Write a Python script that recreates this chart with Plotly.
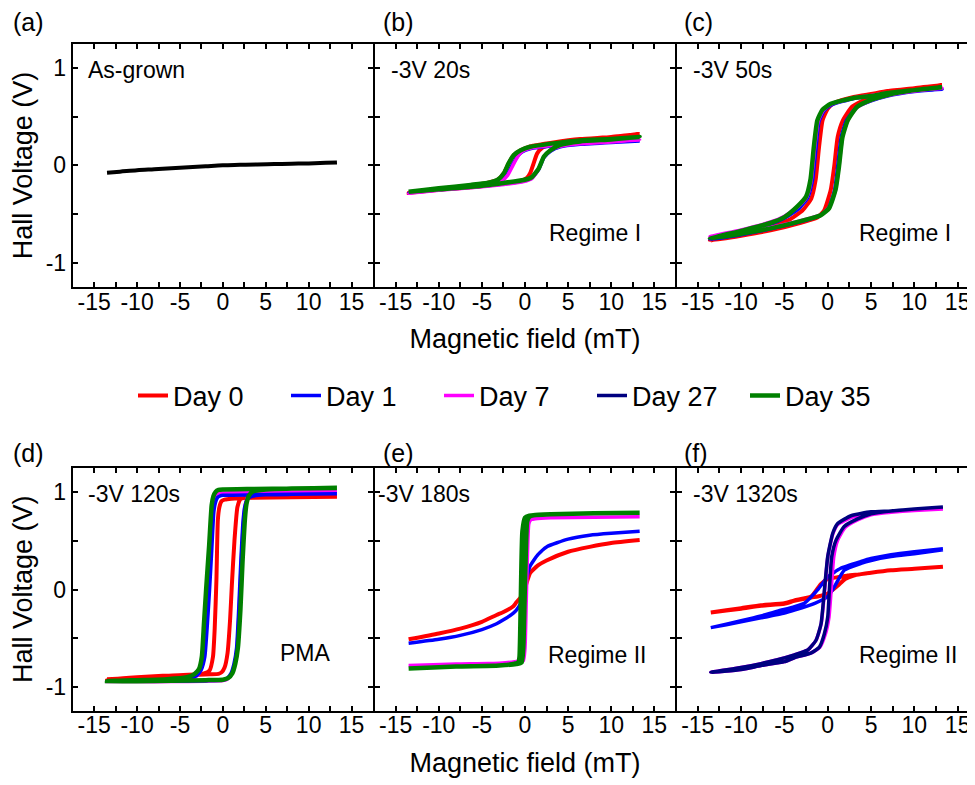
import plotly.graph_objects as go

# ---------------- data ----------------
# (a) As-grown
a_H = [-13.5, -12, -10, -8, -6, -4, -2, 0, 2, 4, 6, 8, 10, 12, 13.3]
a_V = [-0.075, -0.065, -0.05, -0.04, -0.03, -0.02, -0.01, 0.0, 0.005, 0.01, 0.013, 0.017, 0.02, 0.026, 0.03]

# (b) -3V 20s : each loop = descending branch followed by ascending branch
b_day0_H = [13.3, 10, 6.4, 3.3, 0.6, -0.5, -1.3, -1.9, -2.45, -3.2, -4.4, -6.3, -10, -13.5,
            -10, -6.3, -2.45, -0.5, 0.2, 0.6, 1.0, 1.4, 2.0, 3.0, 4.5, 6.4, 10, 13.3]
b_day0_V = [0.32, 0.29, 0.27, 0.235, 0.195, 0.155, 0.105, 0.02, -0.08, -0.15, -0.18, -0.205, -0.24, -0.28,
            -0.25, -0.225, -0.185, -0.16, -0.13, -0.08, 0.02, 0.12, 0.18, 0.21, 0.23, 0.255, 0.29, 0.32]
b_day1_H = [13.3, 10, 6.4, 3.3, 0.6, -0.3, -0.9, -1.5, -2.1, -2.8, -4.0, -6.3, -10, -13.5,
            -10, -6.3, -2.45, -0.15, 0.8, 1.6, 2.2, 2.95, 4.1, 6.4, 10, 13.3]
b_day1_V = [0.25, 0.235, 0.22, 0.2, 0.17, 0.14, 0.09, 0.0, -0.1, -0.16, -0.185, -0.21, -0.245, -0.28,
            -0.25, -0.225, -0.19, -0.16, -0.13, -0.04, 0.08, 0.145, 0.19, 0.215, 0.235, 0.25]
b_day7_H = [13.3, 10, 6.4, 3.3, 0.6, -0.3, -0.8, -1.4, -2.0, -2.7, -4.0, -6.3, -10, -13.5,
            -10, -6.3, -2.45, -0.15, 0.8, 1.55, 2.15, 2.9, 4.1, 6.4, 10, 13.3]
b_day7_V = [0.26, 0.245, 0.225, 0.205, 0.175, 0.145, 0.095, 0.0, -0.1, -0.16, -0.19, -0.215, -0.25, -0.285,
            -0.255, -0.23, -0.195, -0.165, -0.135, -0.04, 0.08, 0.15, 0.195, 0.22, 0.24, 0.26]
b_day35_H = [13.3, 10, 6.4, 3.3, 0.6, -0.5, -1.3, -1.9, -2.45, -3.2, -4.4, -6.3, -10, -13.5,
             -10, -6.3, -2.45, -0.15, 0.8, 1.6, 2.2, 2.95, 4.1, 6.4, 10, 13.3]
b_day35_V = [0.29, 0.27, 0.255, 0.225, 0.19, 0.155, 0.105, 0.02, -0.08, -0.15, -0.18, -0.20, -0.235, -0.27,
             -0.245, -0.22, -0.18, -0.15, -0.12, -0.03, 0.09, 0.155, 0.21, 0.245, 0.265, 0.29]

# (c) -3V 50s
c_day0_H = [13.2, 10, 6.9, 5.0, 3.0, 0.8, 0.0, -0.6, -1.0, -1.4, -1.9, -2.9, -4.5, -6.6, -10, -13.6,
            -10, -6.6, -3.0, -1.2, -0.4, 0.35, 0.75, 1.15, 1.75, 2.8, 4.5, 6.9, 10, 13.2]
c_day0_V = [0.82, 0.79, 0.76, 0.73, 0.70, 0.64, 0.58, 0.46, 0.19, -0.15, -0.34, -0.46, -0.56, -0.62, -0.69, -0.77,
            -0.72, -0.665, -0.585, -0.535, -0.46, -0.25, -0.01, 0.29, 0.46, 0.60, 0.68, 0.74, 0.79, 0.82]
c_day1_H = [13.2, 10, 6.9, 5.0, 3.0, 0.5, -0.4, -1.0, -1.35, -1.75, -2.3, -3.3, -5.0, -6.6, -10, -13.6,
            -10, -6.6, -2.7, -0.9, 0.05, 0.8, 1.15, 1.55, 2.15, 3.3, 5.0, 6.9, 10, 13.2]
c_day1_V = [0.78, 0.76, 0.735, 0.71, 0.685, 0.62, 0.56, 0.45, 0.18, -0.15, -0.33, -0.44, -0.54, -0.60, -0.68, -0.76,
            -0.71, -0.65, -0.565, -0.515, -0.445, -0.25, -0.01, 0.29, 0.46, 0.59, 0.66, 0.71, 0.755, 0.78]
c_day7_H = [13.2, 10, 6.9, 5.0, 3.0, 0.4, -0.5, -1.1, -1.5, -1.9, -2.4, -3.4, -5.0, -6.6, -10, -13.6,
            -10, -6.6, -2.7, -0.8, 0.15, 0.9, 1.3, 1.7, 2.3, 3.4, 5.0, 6.9, 10, 13.2]
c_day7_V = [0.79, 0.765, 0.74, 0.715, 0.69, 0.625, 0.565, 0.455, 0.185, -0.15, -0.32, -0.42, -0.52, -0.58, -0.66, -0.73,
            -0.69, -0.635, -0.555, -0.505, -0.435, -0.25, -0.01, 0.29, 0.46, 0.595, 0.665, 0.715, 0.76, 0.79]
c_day35_H = [13.2, 10, 6.9, 5.0, 3.0, 0.35, -0.6, -1.2, -1.6, -2.0, -2.5, -3.5, -5.0, -6.6, -10, -13.6,
             -10, -6.6, -2.7, -0.8, 0.15, 0.9, 1.3, 1.7, 2.3, 3.4, 5.0, 6.9, 10, 13.2]
c_day35_V = [0.80, 0.77, 0.74, 0.71, 0.69, 0.63, 0.57, 0.46, 0.19, -0.15, -0.32, -0.42, -0.53, -0.59, -0.67, -0.75,
             -0.70, -0.645, -0.56, -0.51, -0.44, -0.25, -0.01, 0.29, 0.46, 0.60, 0.67, 0.72, 0.77, 0.80]

# (d) -3V 120s
d_day0_H = [13.3, 8, 3.5, 1.0, 0.2, -0.15, -0.4, -0.58, -0.75, -0.95, -1.15, -1.55, -2.2, -4, -7, -10, -13.5,
            -10, -7, -4, -1.5, -0.5, -0.15, 0.2, 0.55, 0.85, 1.05, 1.35, 1.7, 2.05, 2.6, 4, 8, 13.3]
d_day0_V = [0.955, 0.95, 0.945, 0.935, 0.925, 0.91, 0.85, 0.72, 0.1, -0.4, -0.69, -0.83, -0.86, -0.875, -0.885, -0.9, -0.92,
            -0.905, -0.895, -0.88, -0.87, -0.865, -0.85, -0.8, -0.65, -0.3, 0.05, 0.5, 0.85, 0.93, 0.945, 0.95, 0.953, 0.955]
d_day1_H = [13.3, 8, 3.5, 0.0, -0.3, -0.6, -0.85, -1.05, -1.3, -1.55, -1.8, -2.1, -2.5, -3.0, -4.0, -6.5, -10, -13.5,
            -10, -6, -2, 0.0, 0.45, 0.95, 1.3, 1.6, 1.85, 2.1, 2.35, 2.55, 2.85, 3.4, 5, 8, 13.3]
d_day1_V = [0.985, 0.98, 0.975, 0.97, 0.965, 0.95, 0.9, 0.8, 0.4, 0.0, -0.35, -0.69, -0.82, -0.88, -0.91, -0.93, -0.935, -0.94,
            -0.94, -0.94, -0.935, -0.93, -0.915, -0.86, -0.76, -0.6, -0.2, 0.3, 0.7, 0.85, 0.93, 0.96, 0.975, 0.98, 0.985]
d_day7_H = [13.3, 8, 3.5, 0.0, -0.4, -0.7, -0.95, -1.15, -1.4, -1.65, -1.9, -2.2, -2.6, -3.1, -4.0, -6.5, -10, -13.5,
            -10, -6, -2, 0.0, 0.5, 1.0, 1.35, 1.65, 1.9, 2.15, 2.4, 2.6, 2.9, 3.45, 5, 8, 13.3]
d_day7_V = [1.01, 1.005, 1.0, 0.995, 0.99, 0.975, 0.93, 0.82, 0.4, 0.0, -0.35, -0.69, -0.83, -0.89, -0.92, -0.935, -0.94, -0.945,
            -0.945, -0.945, -0.94, -0.935, -0.92, -0.87, -0.77, -0.6, -0.2, 0.3, 0.7, 0.87, 0.95, 0.985, 1.0, 1.005, 1.01]
d_day35_H = [13.3, 8, 3.5, 0.0, -0.5, -0.85, -1.1, -1.3, -1.6, -1.95, -2.2, -2.45, -2.8, -3.35, -4.2, -6.5, -10, -13.5,
             -10, -6, -2, 0.0, 0.6, 1.1, 1.45, 1.75, 2.05, 2.3, 2.55, 2.75, 3.05, 3.5, 5, 8, 13.3]
d_day35_V = [1.045, 1.04, 1.035, 1.03, 1.025, 1.005, 0.96, 0.87, 0.45, 0.0, -0.35, -0.69, -0.82, -0.87, -0.9, -0.92, -0.93, -0.94,
             -0.94, -0.935, -0.93, -0.925, -0.91, -0.86, -0.76, -0.6, -0.2, 0.3, 0.7, 0.88, 0.97, 1.01, 1.03, 1.04, 1.045]

# (e) -3V 180s
e_day0_H = [-13.5, -10, -7.5, -5, -3.3, -2.5, -1.35, -1, -0.5, -0.2, 0.0, 0.3, 0.58, 1, 1.5, 2.5, 5, 7.5, 10, 13.3]
e_day0_V = [-0.51, -0.45, -0.40, -0.33, -0.26, -0.23, -0.17, -0.13, -0.08, -0.03, 0.02, 0.10, 0.17, 0.21, 0.25, 0.30, 0.39, 0.44, 0.48, 0.51]
e_day1_H = [-13.5, -10, -7.5, -5, -3.3, -2.5, -1.35, -1, -0.5, -0.2, 0.0, 0.25, 0.58, 1, 1.5, 2.5, 5, 7.5, 10, 13.3]
e_day1_V = [-0.55, -0.51, -0.47, -0.41, -0.35, -0.31, -0.24, -0.21, -0.14, -0.05, 0.03, 0.14, 0.24, 0.30, 0.36, 0.44, 0.52, 0.56, 0.58, 0.60]
e_day7_H = [13.3, 8, 3, 0.5, 0.0, -0.25, -0.4, -0.5, -0.6, -0.8, -1.2, -3, -8, -13.5,
            -8, -3, -1, -0.2, 0.0, 0.15, 0.3, 0.45, 0.7, 1.2, 3, 8, 13.3]
e_day7_V = [0.75, 0.745, 0.74, 0.73, 0.72, 0.6, 0.1, -0.4, -0.68, -0.73, -0.74, -0.755, -0.765, -0.78,
            -0.765, -0.755, -0.745, -0.73, -0.6, -0.1, 0.4, 0.68, 0.72, 0.73, 0.74, 0.745, 0.75]
e_day35_H = [13.3, 8, 3, 0.5, 0.0, -0.3, -0.45, -0.55, -0.65, -0.8, -1.2, -3, -8, -13.5,
             -8, -3, -1, -0.4, -0.2, -0.05, 0.1, 0.25, 0.5, 1, 3, 8, 13.3]
e_day35_V = [0.79, 0.785, 0.775, 0.76, 0.74, 0.6, 0.1, -0.4, -0.7, -0.75, -0.76, -0.78, -0.79, -0.81,
             -0.79, -0.78, -0.765, -0.75, -0.6, -0.1, 0.4, 0.7, 0.75, 0.765, 0.775, 0.785, 0.79]

# (f) -3V 1320s
f_day0_H = [13.3, 10, 7.3, 5, 3.85, 2.3, 1.3, 0.0, -0.77, -1.9, -3.85, -5, -7.7, -10, -13.5,
            -10, -7.7, -5, -3.85, -1.9, -1.15, 0.0, 1.15, 2.0, 3.0, 3.85, 5, 7.3, 10, 13.3]
f_day0_V = [0.235, 0.215, 0.20, 0.175, 0.16, 0.145, 0.13, 0.11, 0.06, -0.07, -0.11, -0.14, -0.16, -0.19, -0.235,
            -0.195, -0.165, -0.145, -0.115, -0.08, -0.07, -0.04, 0.04, 0.11, 0.145, 0.16, 0.175, 0.20, 0.215, 0.235]
f_day1_H = [13.3, 10, 7.3, 5, 3.85, 1.5, 0.0, -1.15, -2.7, -4.0, -5.8, -7.7, -10, -13.5,
            -10, -7.7, -5, -3.85, -1.5, 0.0, 0.77, 1.9, 3.85, 5, 7.3, 10, 13.3]
f_day1_V = [0.42, 0.39, 0.36, 0.32, 0.29, 0.22, 0.13, 0.0, -0.14, -0.18, -0.22, -0.27, -0.32, -0.39,
            -0.33, -0.29, -0.24, -0.21, -0.14, -0.07, 0.03, 0.20, 0.27, 0.30, 0.34, 0.37, 0.41]
f_day7_H = [13.3, 10, 7.3, 5, 2.7, 1.15, 0.58, 0.0, -0.35, -0.75, -1.35, -2.3, -3.85, -5.8, -7.7, -10, -13.5,
            -10, -7.7, -5, -3.85, -1.9, -0.9, -0.25, 0.15, 0.4, 0.7, 1.15, 2.0, 3.5, 5, 7.3, 10, 13.3]
f_day7_V = [0.83, 0.815, 0.795, 0.78, 0.74, 0.67, 0.57, 0.33, 0.0, -0.35, -0.52, -0.62, -0.67, -0.72, -0.76, -0.80, -0.85,
            -0.82, -0.78, -0.74, -0.70, -0.65, -0.59, -0.45, -0.28, 0.0, 0.34, 0.51, 0.64, 0.72, 0.77, 0.795, 0.815, 0.83]
f_day27_H = [13.3, 10, 7.3, 5, 2.7, 1.15, 0.58, 0.0, -0.38, -0.77, -1.35, -2.3, -3.85, -5.8, -7.7, -10, -13.5,
             -10, -7.7, -5, -3.85, -1.9, -0.96, -0.38, 0.0, 0.19, 0.46, 0.96, 1.9, 3.5, 5, 7.3, 10, 13.3]
f_day27_V = [0.85, 0.83, 0.81, 0.80, 0.76, 0.68, 0.58, 0.34, 0.0, -0.35, -0.52, -0.62, -0.67, -0.72, -0.76, -0.80, -0.85,
             -0.82, -0.78, -0.74, -0.70, -0.65, -0.59, -0.45, -0.28, 0.0, 0.34, 0.51, 0.65, 0.73, 0.78, 0.81, 0.83, 0.85]

# labels
day_names = ["Day 0", "Day 1", "Day 7", "Day 27", "Day 35"]
day_colors = ["#ff0000", "#0000ff", "#ff00ff", "#000080", "#008000"]
panel_letters = ["(a)", "(b)", "(c)", "(d)", "(e)", "(f)"]
panel_titles = ["As-grown", "-3V 20s", "-3V 50s", "-3V 120s", "-3V 180s", "-3V 1320s"]
regime_texts = ["Regime I", "Regime I", "PMA", "Regime II", "Regime II"]
x_tickvals = [-15, -12.5, -10, -7.5, -5, -2.5, 0, 2.5, 5, 7.5, 10, 12.5, 15]
x_ticktext = ["-15", "", "-10", "", "-5", "", "0", "", "5", "", "10", "", "15"]
y_tickvals = [-1, -0.5, 0, 0.5, 1]
y_ticktext = ["-1", "", "0", "", "1"]
x_title = "Magnetic field (mT)"
y_title = "Hall Voltage (V)"

# ---------------- figure ----------------
# The page body has an 8px margin, so the figure is 8px smaller and all
# target-pixel positions are shifted by 8px.
OFF = 8
W, H = 975 - OFF, 785 - OFF
FONT = "Liberation Sans, Arial, sans-serif"

def px_x(p):
    return (p - OFF) / W

def px_y(p):
    return 1 - (p - OFF) / H

fig = go.Figure()

widths = {"Day 0": 4, "Day 1": 3.5, "Day 7": 3.5, "Day 27": 3.5, "Day 35": 4.5}
shown = set()

def add(panel, day, Hs, Vs):
    idx = day_names.index(day)
    show = day not in shown
    shown.add(day)
    fig.add_trace(go.Scatter(
        x=Hs, y=Vs, mode="lines", name=day, legendgroup=day, showlegend=show,
        legendrank=idx + 1,
        line=dict(color=day_colors[idx], width=widths[day], shape="spline", smoothing=0.5),
        xaxis="x" if panel == 1 else f"x{panel}", yaxis="y" if panel == 1 else f"y{panel}",
    ))

fig.add_trace(go.Scatter(x=a_H, y=a_V, mode="lines", showlegend=False,
                         line=dict(color="black", width=4, shape="spline"),
                         xaxis="x", yaxis="y"))
add(2, "Day 0", b_day0_H, b_day0_V)
add(2, "Day 1", b_day1_H, b_day1_V)
add(2, "Day 7", b_day7_H, b_day7_V)
add(2, "Day 35", b_day35_H, b_day35_V)
add(3, "Day 0", c_day0_H, c_day0_V)
add(3, "Day 1", c_day1_H, c_day1_V)
add(3, "Day 7", c_day7_H, c_day7_V)
add(3, "Day 35", c_day35_H, c_day35_V)
add(4, "Day 0", d_day0_H, d_day0_V)
add(4, "Day 7", d_day7_H, d_day7_V)
add(4, "Day 1", d_day1_H, d_day1_V)
add(4, "Day 35", d_day35_H, d_day35_V)
add(5, "Day 0", e_day0_H, e_day0_V)
add(5, "Day 1", e_day1_H, e_day1_V)
add(5, "Day 7", e_day7_H, e_day7_V)
add(5, "Day 35", e_day35_H, e_day35_V)
add(6, "Day 0", f_day0_H, f_day0_V)
add(6, "Day 1", f_day1_H, f_day1_V)
add(6, "Day 7", f_day7_H, f_day7_V)
add(6, "Day 27", f_day27_H, f_day27_V)

# panel pixel boxes (left, right, top, bottom) in target-page pixels
col_px = [(72.7, 373), (375, 675), (677, 975)]
row_px = [(44, 287), (467.7, 710.7)]
x_ranges = [[-17.5, 17.5], [-17.4, 17.4], [-17.4, 17.0]]
y_ranges = [[-1.245, 1.242], [-1.244, 1.254]]

tickfont = dict(family=FONT, size=23, color="black")
layout = dict(
    width=W, height=H, margin=dict(l=0, r=0, t=0, b=0),
    paper_bgcolor="white", plot_bgcolor="white",
    font=dict(family=FONT, color="black"),
    showlegend=True,
    legend=dict(orientation="h", x=px_x(133), xanchor="left", y=px_y(396), yanchor="middle",
                font=dict(family=FONT, size=27, color="black"), entrywidth=108, itemwidth=30,
                bgcolor="rgba(0,0,0,0)"),
)
for i in range(6):
    r, c = divmod(i, 3)
    n = "" if i == 0 else str(i + 1)
    xa = dict(domain=[px_x(col_px[c][0]), min(1.0, px_x(col_px[c][1]))], range=x_ranges[c],
              anchor=f"y{n}", tickmode="array", tickvals=x_tickvals, ticktext=x_ticktext,
              ticks="inside", ticklen=5, tickwidth=1.5, tickcolor="black",
              showline=True, linewidth=2, linecolor="black", mirror="ticks",
              showgrid=False, zeroline=False, tickfont=tickfont, automargin=False,
              ticklabelstandoff=-7)
    ya = dict(domain=[px_y(row_px[r][1]), px_y(row_px[r][0])], range=y_ranges[r],
              anchor=f"x{n}", tickmode="array", tickvals=y_tickvals, ticktext=y_ticktext,
              ticks="inside", ticklen=5, tickwidth=1.5, tickcolor="black",
              showline=True, linewidth=2, linecolor="black", mirror="ticks",
              showgrid=False, zeroline=False, tickfont=tickfont, automargin=False,
              showticklabels=(c == 0))
    if c == 1:
        xa["title"] = dict(text=x_title, font=dict(family=FONT, size=27, color="black"), standoff=16)
    if c == 0:
        ya["title"] = dict(text=y_title, font=dict(family=FONT, size=27, color="black"), standoff=8)
    layout[f"xaxis{n}"] = xa
    layout[f"yaxis{n}"] = ya

annotations = []
letter_pos = [(11, 22), (381, 22), (682, 22), (11, 453), (381, 453), (682, 453)]
for i, (lx, ly) in enumerate(letter_pos):
    annotations.append(dict(text=panel_letters[i], x=px_x(lx), y=px_y(ly), xref="paper", yref="paper",
                            xanchor="left", yanchor="middle", showarrow=False,
                            font=dict(family=FONT, size=25, color="black")))
title_pos = [(86, 70), (389, 70), (691, 70), (86, 494), (376, 494), (691, 494)]
for i, (lx, ly) in enumerate(title_pos):
    annotations.append(dict(text=panel_titles[i], x=px_x(lx), y=px_y(ly), xref="paper", yref="paper",
                            xanchor="left", yanchor="middle", showarrow=False,
                            font=dict(family=FONT, size=23, color="black")))
regime_pos = [(547, 233), (857, 233), (278, 653), (546, 655), (857, 655)]
for i, (lx, ly) in enumerate(regime_pos):
    annotations.append(dict(text=regime_texts[i], x=px_x(lx), y=px_y(ly), xref="paper", yref="paper",
                            xanchor="left", yanchor="middle", showarrow=False,
                            font=dict(family=FONT, size=23, color="black")))
layout["annotations"] = annotations

fig.update_layout(**layout)
fig.write_html("out.html")
